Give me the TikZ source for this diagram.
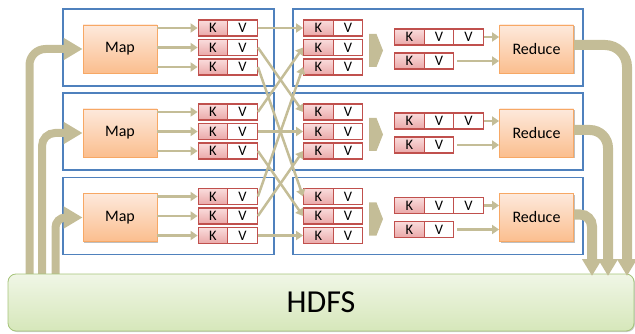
\documentclass[tikz,border=0pt]{standalone}
\usepackage{fontspec}
\setmainfont{Carlito}
\usetikzlibrary{arrows.meta,shadows}
\definecolor{arrowtan}{HTML}{C4BD97}
\definecolor{grpblue}{HTML}{4F81BD}
\definecolor{kred}{HTML}{C0504D}
\definecolor{ktop}{HTML}{FADCDC}
\definecolor{kbot}{HTML}{EAA8A8}
\definecolor{otop}{HTML}{FDE9DC}
\definecolor{obot}{HTML}{FBBE8E}
\definecolor{oline}{HTML}{F7A865}
\definecolor{gtop}{HTML}{F0F6E6}
\definecolor{gbot}{HTML}{D6E7BA}
\definecolor{gline}{HTML}{A6C47A}
\tikzset{
  grp/.style={draw=grpblue, line width=1.3pt},
  proc/.style={draw=oline, line width=0.8pt, top color=otop, bottom color=obot,
    minimum width=74pt, minimum height=48pt, inner sep=0pt,
    font=\fontsize{16}{18}\selectfont,
    drop shadow={shadow xshift=1.2pt, shadow yshift=-1.2pt, opacity=0.25, fill=black}},
  kcell/.style={draw=kred, line width=1.3pt, top color=ktop, bottom color=kbot,
    minimum width=29.5pt, minimum height=16pt, inner sep=0pt,
    font=\fontsize{14.5}{16}\selectfont},
  vcell/.style={draw=kred, line width=1.3pt, fill=white,
    minimum width=29.5pt, minimum height=16pt, inner sep=0pt,
    font=\fontsize{14.5}{16}\selectfont},
  flow/.style={draw=arrowtan, line width=2.5pt, -{Triangle[length=7pt,width=9pt]}},
  bigl/.style={draw=arrowtan, line width=8pt, -{Triangle[length=19pt,width=21pt]}},
  bigr/.style={draw=arrowtan, line width=10pt, -{Triangle[length=17pt,width=19pt]}},
  hdfsbox/.style={draw=gline, line width=0.8pt, top color=gtop, bottom color=gbot,
    rounded corners=8pt, minimum width=626pt, minimum height=57pt, inner sep=0pt,
    font=\fontsize{32}{36}\selectfont,
    drop shadow={shadow xshift=1pt, shadow yshift=-1pt, opacity=0.2, fill=black}},
}
\begin{document}
\begin{tikzpicture}[x=1pt,y=-1pt]
\useasboundingbox (0,0) rectangle (635,334);
% group frames
\foreach \g [count=\i] in {0,84,168.5} {
  \draw[grp] (63,{9+\g}) rectangle (274,{86+\g});
  \draw[grp] (293,{9+\g}) rectangle (583,{86+\g});
}
% coordinates for big arrows
\coordinate (lo1) at (29.5,285);
\coordinate (lo2) at (42,285);
\coordinate (lo3) at (55.5,285);
\coordinate (ro1) at (627,276);
\coordinate (ro2) at (608,276);
\coordinate (ro3) at (592,276);
\foreach \g [count=\i] in {0,84,168.5} {
  \node[proc] (map\i) at (120,{49+\g}) {Map};
  \node[proc] (red\i) at (536.5,{49+\g}) {Reduce};
  \foreach \r [count=\j] in {28,47.5,67} {
    \node[kcell] (lk-\i-\j) at (213,{\r+\g}) {K};
    \node[vcell] (lv-\i-\j) at (242.5,{\r+\g}) {V};
    \node[kcell] (rk-\i-\j) at (318.5,{\r+\g}) {K};
    \node[vcell] (rv-\i-\j) at (348,{\r+\g}) {V};
    \draw[flow] (map\i.east |- lk-\i-\j.west) -- (lk-\i-\j.west);
  }
  \fill[arrowtan] (369,{34+\g}) -- (376.5,{34+\g}) -- (383,{50.5+\g}) -- (376.5,{67+\g}) -- (369,{67+\g}) -- cycle;
  \node[kcell] (kvk-\i) at (409.5,{37+\g}) {K};
  \node[vcell] (kvv1-\i) at (439,{37+\g}) {V};
  \node[vcell] (kvv2-\i) at (468.5,{37+\g}) {V};
  \node[kcell] (kk-\i) at (409.5,{61+\g}) {K};
  \node[vcell] (kv-\i) at (439,{61+\g}) {V};
  \draw[flow] (kvv2-\i.east) -- (red\i.west |- kvv2-\i.east);
  \draw[flow, shorten <=3pt] (kv-\i.east) -- (red\i.west |- kv-\i.east);
}
% shuffle
\foreach \i in {1,2,3} {
  \foreach \j in {1,2,3} {
    \draw[flow] (lv-\i-\j.east) -- (rk-\j-\i.west);
  }
}
% big input arrows
\draw[bigl, rounded corners=16pt] (lo1) |- (map1.west);
\draw[bigl, rounded corners=13pt] (lo2) |- (map2.west);
\draw[bigl, rounded corners=10pt] (lo3) |- (map3.west);
% HDFS
\node[hdfsbox] (hdfs) at (321,302.5) {HDFS};
% big output arrows
\draw[bigr, rounded corners=22pt] ([yshift=4pt]red1.east) -| (ro1);
\draw[bigr, rounded corners=18pt] ([yshift=3pt]red2.east) -| (ro2);
\draw[bigr, rounded corners=12pt] ([yshift=3pt]red3.east) -| (ro3);
\end{tikzpicture}
\end{document}
